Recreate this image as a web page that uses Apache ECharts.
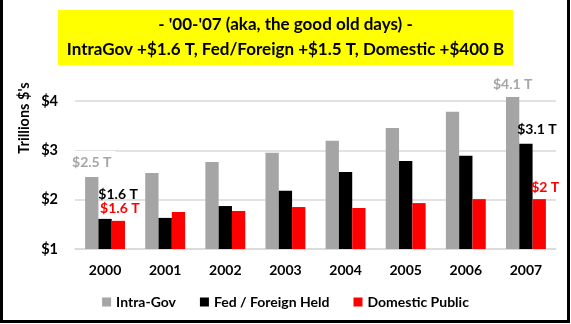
<!DOCTYPE html>
<html><head><meta charset="utf-8">
<script src="https://cdn.jsdelivr.net/npm/echarts@6/dist/echarts.min.js"></script>
<style>html,body{margin:0;padding:0;background:#fff}#c{width:571px;height:324px}</style>
</head><body><div id="c"></div>
<script>
const years = ['2000','2001','2002','2003','2004','2005','2006','2007'];
const intraGov = [2.46, 2.54, 2.76, 2.95, 3.19, 3.45, 3.78, 4.08];
const fedForeign = [1.61, 1.63, 1.87, 2.18, 2.56, 2.78, 2.89, 3.13];
const domestic = [1.57, 1.75, 1.77, 1.85, 1.83, 1.93, 2.01, 2.01];
const yTicks = ['$1','$2','$3','$4'];
const seriesNames = ['Intra-Gov','Fed / Foreign Held','Domestic Public'];
const endLabels = {
  intraGov: ['$2.5 T', '$4.1 T'],
  fedForeign: ['$1.6 T', '$3.1 T'],
  domestic: ['$1.6 T', '$2 T']
};
const titleLines = ["- '00-'07 (aka, the good old days) -", 'IntraGov +$1.6 T, Fed/Foreign +$1.5 T, Domestic +$400 B'];
const yAxisTitle = "Trillions $'s";

const FONT = 'Lato';
function withLabels(vals, labels, color, off0, off7, extra0) {
  return vals.map((v, i) => {
    if (i === 0 || i === vals.length - 1) {
      const txt = i === 0 ? labels[0] : labels[1];
      return {
        value: v,
        label: Object.assign({
          show: true, position: 'top', formatter: txt, color: color,
          fontFamily: FONT, fontWeight: 'bold', fontSize: 14,
          offset: i === 0 ? off0 : off7
        }, i === 0 ? (extra0 || {}) : {})
      };
    }
    return v;
  });
}

const chart = echarts.init(document.getElementById('c'));
chart.setOption({
  animation: false,
  textStyle: { fontFamily: FONT },
  grid: { left: 75, right: 15, top: 91, bottom: 75 },
  graphic: [
    { type: 'rect', shape: { x: 1.5, y: -5, width: 567, height: 326.5 }, style: { fill: null, stroke: '#000', lineWidth: 3 }, z: 100 },
    { type: 'rect', shape: { x: 58, y: 10, width: 455, height: 55 }, style: { fill: '#ffff00' }, z: 0 },
    { type: 'text', x: 285.5, y: 25, style: { text: titleLines[0], font: 'bold 17px ' + FONT, fill: '#000', align: 'center', verticalAlign: 'middle' }, z: 1 },
    { type: 'text', x: 285.5, y: 50, style: { text: titleLines[1], font: 'bold 17px ' + FONT, fill: '#000', align: 'center', verticalAlign: 'middle' }, z: 1 },
    { type: 'text', x: 24, y: 118, rotation: Math.PI / 2, style: { text: yAxisTitle, font: 'bold 14.5px ' + FONT, fill: '#000', align: 'center', verticalAlign: 'middle' }, z: 1 }
  ],
  legend: {
    top: 290, left: 'center', itemWidth: 9, itemHeight: 9, itemGap: 24,
    icon: 'rect',
    textStyle: { fontFamily: FONT, fontWeight: 'bold', fontSize: 14, color: '#000' },
    data: seriesNames
  },
  xAxis: {
    type: 'category', data: years,
    axisLine: { lineStyle: { color: '#d9d9d9', width: 1.5 } },
    axisTick: { show: false },
    axisLabel: { color: '#000', fontWeight: 'bold', fontSize: 14, margin: 14, fontFamily: FONT }
  },
  yAxis: {
    type: 'value', min: 1, max: 4.2, interval: 1,
    axisLine: { show: false }, axisTick: { show: false },
    splitLine: { showMaxLine: false, lineStyle: { color: '#d9d9d9', width: 1.5 } },
    axisLabel: { color: '#000', fontWeight: 'bold', fontSize: 14.5, margin: 17, fontFamily: FONT, showMaxLabel: false,
      formatter: (v) => yTicks[Math.round(v) - 1] || '' }
  },
  series: [
    { name: seriesNames[0], type: 'bar', barWidth: 13.3, barGap: '0%', barCategoryGap: '33%',
      itemStyle: { color: '#a5a5a5' },
      data: withLabels(intraGov, endLabels.intraGov, '#a5a5a5', [0, -2], [0, 0],
        { backgroundColor: '#fff', padding: [5, 4, 0, 4] }) },
    { name: seriesNames[1], type: 'bar', barWidth: 13.3,
      itemStyle: { color: '#000' },
      data: withLabels(fedForeign, endLabels.fedForeign, '#000', [13, -12], [11, -2]) },
    { name: seriesNames[2], type: 'bar', barWidth: 13.3,
      itemStyle: { color: '#ff0000' },
      data: withLabels(domestic, endLabels.domestic, '#ff0000', [1.5, 0], [6, 0]) }
  ]
});
</script></body></html>
